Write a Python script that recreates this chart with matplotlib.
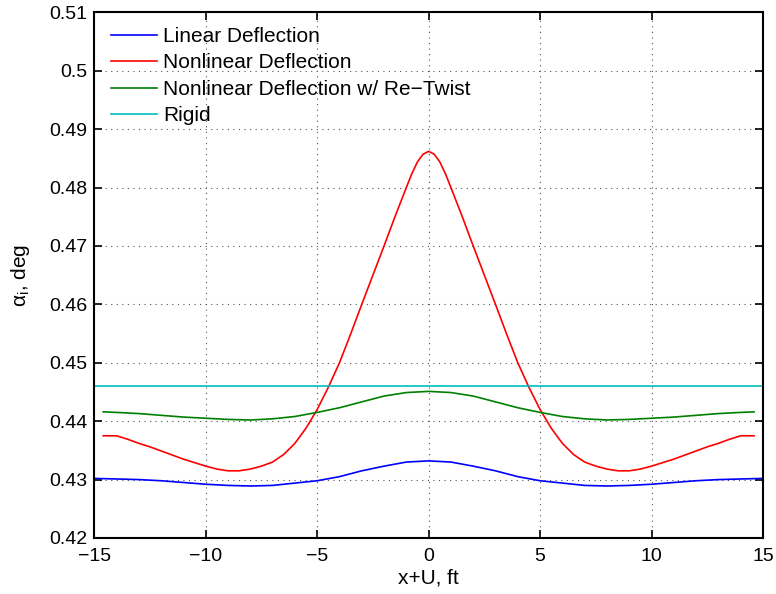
import matplotlib.pyplot as plt
import numpy as np

plt.rcParams['font.family'] = ['Liberation Sans', 'DejaVu Sans']
plt.rcParams['mathtext.fontset'] = 'custom'
plt.rcParams['mathtext.rm'] = 'Liberation Sans'
plt.rcParams['mathtext.it'] = 'Liberation Sans'

# values
x_lin = [-15, -14, -13, -12, -11, -10, -9, -8, -7, -6, -5, -4, -3, -2, -1, 0,
         1, 2, 3, 4, 5, 6, 7, 8, 9, 10, 11, 12, 13, 14, 15]
linear = [0.4302, 0.4301, 0.4300, 0.4298, 0.4295, 0.4292, 0.4290, 0.4289, 0.4290,
          0.4294, 0.4298, 0.4305, 0.4315, 0.4323, 0.4330, 0.4332,
          0.4330, 0.4323, 0.4315, 0.4305, 0.4298, 0.4294, 0.4290, 0.4289, 0.4290,
          0.4292, 0.4295, 0.4298, 0.4300, 0.4301, 0.4302]

x_nl = [-14.6, -14, -13.5, -13, -12.5, -12, -11.5, -11, -10.5, -10, -9.5, -9, -8.5,
        -8, -7.5, -7, -6.5, -6, -5.5, -5, -4.5, -4, -3.5, -3, -2.5, -2, -1.5, -1,
        -0.75, -0.5, -0.25, 0, 0.25, 0.5, 0.75,
        1, 1.5, 2, 2.5, 3, 3.5, 4, 4.5, 5, 5.5, 6, 6.5, 7, 7.5, 8,
        8.5, 9, 9.5, 10, 10.5, 11, 11.5, 12, 12.5, 13, 13.5, 14, 14.6]
nonlinear = [0.4375, 0.4375, 0.4369, 0.4362, 0.4356, 0.4349, 0.4342, 0.4335, 0.4329,
             0.4323, 0.4318, 0.4315, 0.4315, 0.4318, 0.4323, 0.4330, 0.4343, 0.4362,
             0.4388, 0.4420, 0.4458, 0.4500, 0.4549, 0.4600, 0.4650, 0.4700, 0.4751,
             0.4800, 0.4824, 0.4844, 0.4857, 0.4862, 0.4857, 0.4844, 0.4824,
             0.4800, 0.4751, 0.4700, 0.4650, 0.4600,
             0.4549, 0.4500, 0.4458, 0.4420, 0.4388, 0.4362, 0.4343, 0.4330, 0.4323,
             0.4318, 0.4315, 0.4315, 0.4318, 0.4323, 0.4329, 0.4335, 0.4342, 0.4349,
             0.4356, 0.4362, 0.4369, 0.4375, 0.4375]

x_rt = [-14.6, -14, -13, -12, -11, -10, -9, -8, -7, -6, -5, -4, -3, -2, -1, 0,
        1, 2, 3, 4, 5, 6, 7, 8, 9, 10, 11, 12, 13, 14, 14.6]
retwist = [0.4416, 0.4415, 0.4413, 0.4410, 0.4407, 0.4405, 0.4403, 0.4402, 0.4404,
           0.4408, 0.4415, 0.4423, 0.4433, 0.4443, 0.4449, 0.4451,
           0.4449, 0.4443, 0.4433, 0.4423, 0.4415, 0.4408, 0.4404, 0.4402, 0.4403,
           0.4405, 0.4407, 0.4410, 0.4413, 0.4415, 0.4416]

x_rigid = [-15, 15]
rigid = [0.4461, 0.4461]

fig = plt.figure(figsize=(7.76, 5.94), dpi=100)
ax = fig.add_axes([0.1215, 0.0943, 0.8617, 0.885])

ax.plot(x_lin, linear, color=(0, 0, 1), lw=1.2, label="Linear Deflection")
ax.plot(x_nl, nonlinear, color=(1, 0, 0), lw=1.2, label="Nonlinear Deflection")
ax.plot(x_rt, retwist, color=(0, 0.5, 0), lw=1.2, label="Nonlinear Deflection w/ Re\u2212Twist")
ax.plot(x_rigid, rigid, color=(0, 0.75, 0.75), lw=1.2, label="Rigid")

ax.set_xlim(-15, 15)
ax.set_ylim(0.42, 0.51)
ax.set_xticks(np.arange(-15, 16, 5))
ax.set_yticks(np.round(np.arange(0.42, 0.5101, 0.01), 2))
ax.yaxis.set_major_formatter(plt.FormatStrFormatter('%g'))
ax.tick_params(direction='in', top=True, right=True, length=6, width=1.2, labelsize=14)
ax.tick_params(axis='x', pad=7)
ax.tick_params(axis='y', pad=5)
for s in ax.spines.values():
    s.set_linewidth(1.5)
ax.grid(True, linestyle=(0, (1, 4)), color='#555555', lw=0.8)

ax.set_xlabel("x+U, ft", fontsize=15, labelpad=3)
ax.set_ylabel(r"α$_\mathrm{i}$, deg", fontsize=15, labelpad=12)

ax.legend(loc='upper left', frameon=False, fontsize=15, handlelength=2.2,
          handletextpad=0.3, labelspacing=0.36, borderaxespad=0.3,
          bbox_to_anchor=(0.003, 1.0))

fig.savefig("out.png", dpi=100)
